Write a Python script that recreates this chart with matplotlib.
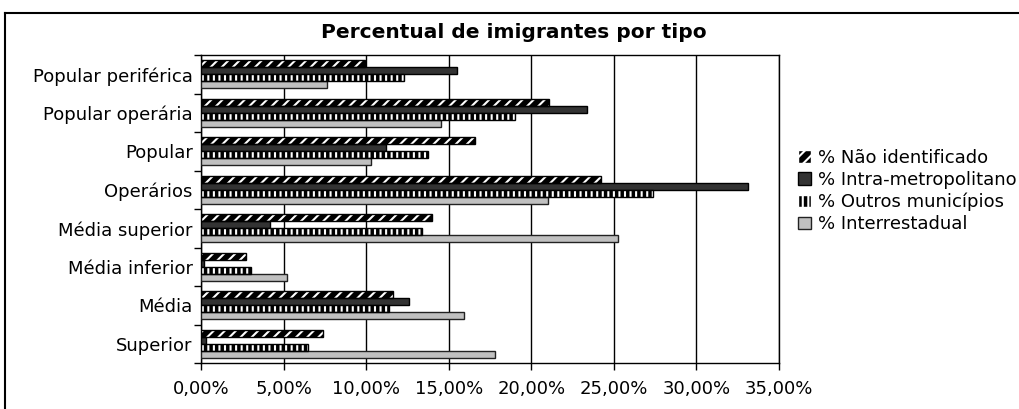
import matplotlib
matplotlib.use("Agg")
import matplotlib.pyplot as plt
import numpy as np
from matplotlib.patches import Patch
from matplotlib.ticker import FuncFormatter, FixedLocator

# categories listed top to bottom
categorias = ["Popular periférica", "Popular operária", "Popular", "Operários",
              "Média superior", "Média inferior", "Média", "Superior"]

nao_identificado = [9.95, 21.1, 16.6, 24.25, 14.0, 2.7, 11.6, 7.4]
intra_metropolitano = [15.5, 23.4, 11.2, 33.1, 4.2, 0.2, 12.6, 0.3]
outros_municipios = [12.3, 19.0, 13.75, 27.35, 13.4, 3.0, 11.4, 6.5]
interrestadual = [7.65, 14.55, 10.3, 21.0, 25.25, 5.2, 15.9, 17.8]

series_nomes = ["% Não identificado", "% Intra-metropolitano",
                "% Outros municípios", "% Interrestadual"]

plt.rcParams["hatch.linewidth"] = 1.5

fig = plt.figure(figsize=(10.2, 4.09), dpi=100)
ax = fig.add_axes([201/1020, 1 - 363/409, 578/1020, 308/409])

y = np.arange(len(categorias))
h = 0.184
offs = [-1.5*h, -0.5*h, 0.5*h, 1.5*h]

# Nao identificado: black with white diagonal slashes
ax.barh(y + offs[0], nao_identificado, height=h, color="black",
        edgecolor="white", hatch="///", linewidth=0, zorder=3)
ax.barh(y + offs[0], nao_identificado, height=h, fill=False,
        edgecolor="black", linewidth=1, zorder=4)
# Intra-metropolitano: dark solid
ax.barh(y + offs[1], intra_metropolitano, height=h, color="#333333",
        edgecolor="black", linewidth=1, zorder=3)
# Outros municipios: black with white vertical marks
ax.barh(y + offs[2], outros_municipios, height=h, color="black",
        edgecolor="white", hatch="|||", linewidth=0, zorder=3)
ax.barh(y + offs[2], outros_municipios, height=h, fill=False,
        edgecolor="black", linewidth=1, zorder=4)
# Interrestadual: light gray
ax.barh(y + offs[3], interrestadual, height=h, color="#c0c0c0",
        edgecolor="#222222", linewidth=1, zorder=3)

ax.set_xlim(0, 35)
ax.set_ylim(len(categorias) - 0.5, -0.5)
ax.set_xticks(np.arange(0, 36, 5))
ax.xaxis.set_major_formatter(FuncFormatter(lambda v, p: f"{v:.2f}%".replace(".", ",")))
ax.xaxis.grid(True, color="black", linewidth=1)
ax.set_axisbelow(True)

ax.set_yticks(y)
ax.set_yticklabels(categorias)
ax.yaxis.set_minor_locator(FixedLocator(np.arange(-0.5, len(categorias), 1)))
ax.tick_params(axis="y", which="major", length=0, pad=6, labelsize=13)
ax.tick_params(axis="y", which="minor", length=5, width=1, direction="out")
ax.tick_params(axis="x", length=5, width=1, direction="out", pad=7, labelsize=13)
for s in ax.spines.values():
    s.set_color("black")
    s.set_linewidth(1)

fig.text(0.504, 1 - 32/409, "Percentual de imigrantes por tipo",
         ha="center", va="center", fontsize=14.5, fontweight="bold")

# outer chart frame (clipped on right/bottom in the original)
fig.add_artist(plt.Line2D([5/1020, 5/1020], [0, 1 - 13/409], color="black", lw=1.5))
fig.add_artist(plt.Line2D([5/1020, 1], [1 - 13/409, 1 - 13/409], color="black", lw=1.5))

handles = [
    Patch(facecolor="black", edgecolor="white", hatch="///"),
    Patch(facecolor="#333333", edgecolor="black"),
    Patch(facecolor="black", edgecolor="white", hatch="|||"),
    Patch(facecolor="#c0c0c0", edgecolor="#222222"),
]
fig.legend(handles, series_nomes, loc="center left",
           bbox_to_anchor=(791/1020, 1 - 191/409), frameon=False,
           fontsize=13, handlelength=0.7, handleheight=0.7,
           handletextpad=0.4, labelspacing=0.22, borderaxespad=0)

fig.savefig("out.png", dpi=100)
